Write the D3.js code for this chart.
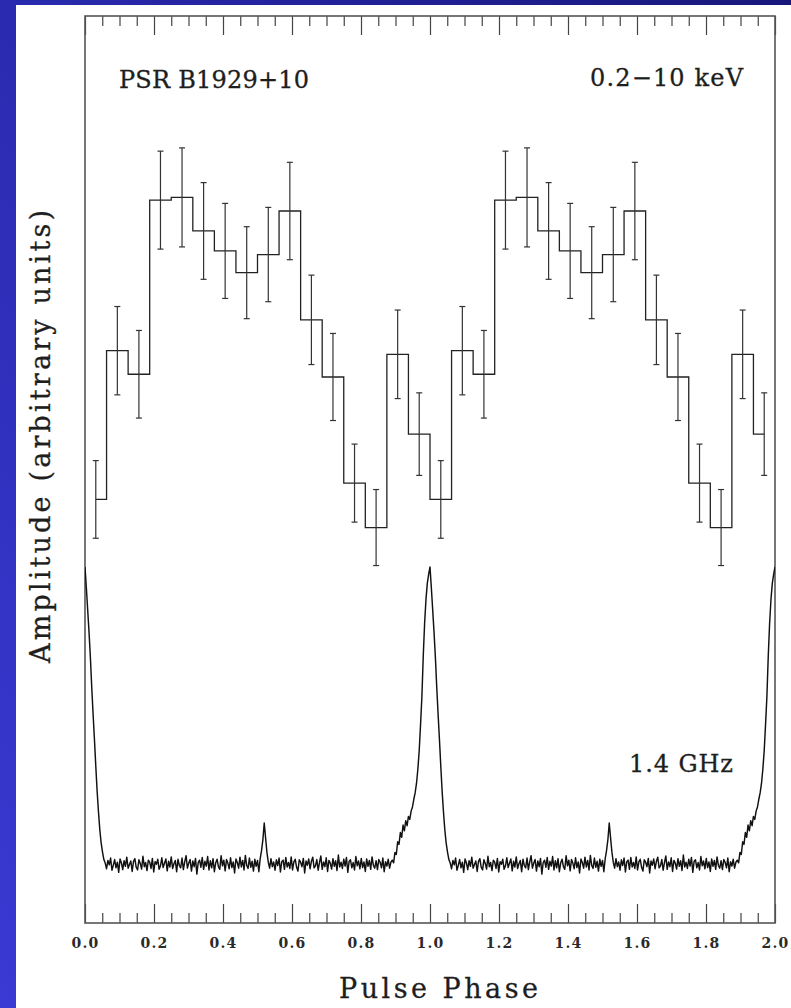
<!DOCTYPE html>
<html>
<head>
<meta charset="utf-8">
<script src="https://cdn.jsdelivr.net/npm/d3@7"></script>
<style>
  html, body { margin: 0; padding: 0; background: #2a2aa8; }
  svg { display: block; }
</style>
</head>
<body>
<svg id="chart" width="791" height="1008"></svg>
<script>
// X-ray (0.2-10 keV) folded light curve: 16 phase bins per cycle, arbitrary units
const xrayRate = [46.7, 63.1, 60.5, 79.7, 80.0, 76.3, 74.1, 71.7,
                  73.7, 78.5, 66.5, 60.2, 48.5, 43.6, 62.7, 53.9];
const xrayErr  = [4.28, 4.87, 4.83, 5.40, 5.46, 5.33, 5.24, 5.07,
                  5.20, 5.37, 4.93, 4.80, 4.30, 4.19, 4.88, 4.55];

// 1.4 GHz radio profile: 256 phase bins per cycle, baseline 0, peak 100
const radioProfile = [
  100, 93, 85.5, 78, 69.5, 59.5, 50.5, 42, 33, 24.5, 17.5, 11.5, 7, 4, 1.5, 0.3,
  -1.6, 1.2, -0.3, 2.0, -2.1, -0.4, 1.5, -1.3, 0.6, -2.8,
  1.7, 0.4, -1.9, 1.1, -0.8, 2.3, -1.4, -0.2, 1.0, -2.5,
  0.9, 1.8, -1.1, -2.0, 1.4, 0.2, -1.7, 2.6, -0.9, 0.5,
  -2.2, 1.3, 0.6, -1.5, 1.9, -2.7, 0.8, -0.1, 1.6, -1.8,
  -0.6, 2.1, -1.2, 0.3, 1.7, -2.3, 0.9, -1.0, 2.4, -1.5,
  0.1, 1.2, -2.6, 1.6, -0.5, -1.3, 2.0, -1.9, 0.7, 2.8,
  -1.4, 0.3, 1.5, -2.4, 1.0, -0.9, 1.9, -3.4, 0.5, 1.3,
  -1.1, 2.2, -1.8, 0.9, -0.7, 2.5, -2.0, 1.1, -1.3, 1.8,
  -2.6, 0.4, 1.6, -0.9, -1.8, 2.8, -0.6, 1.3, -2.3, 1.5,
  0.3, -1.6, 2.1, -1.2, 0.7, -3.0, 1.7, 0.5, -1.4, 2.3,
  -1.0, 1.2, -2.0, 2.9, -0.5, -1.5, 2.0, -1.1, 0.9, -2.4,
  1.6, -0.8, 1.2, -2.6,
  1.8, 4.5, 8.2, 13.8, 8.8, 3.9, 0.6,
  -1.4, 1.8, -0.9, 0.7, -2.1, 1.4, -0.5, 2.0, -2.7, 0.8,
  1.3, -1.8, 2.2, -1.0, 0.5, -1.5, 2.4, -2.0, 0.7, 1.6,
  -1.1, -2.4, 1.4, 0.6, -0.9, 1.9, -3.0, 1.0, -0.4, 1.7,
  -1.6, 0.9, 2.3, -1.3, -0.6, 1.5, -2.1, 0.5, 2.7, -1.8,
  0.7, -0.9, 2.1, -2.5, 1.2, 0.3, -1.7, 1.8, -0.8, 1.1,
  -2.2, 3.0, -1.0, 0.6, -1.5, 1.6, -0.7, 2.2, -2.8, 0.9,
  1.4, -1.3, 0.5, -2.0, 2.5, -0.6, 1.0, -1.6, 1.9, -1.2,
  0.7, -2.5, 1.7, -0.8, 1.2, -1.8, 2.4, -0.5, -1.4, 1.1,
  -1.9, 1.5, 0.6, -1.3, 2.0, -2.6, 0.8, -0.7, 1.6, -1.4,
  0.6,
  1.3, 0.4, 3.9, 3.2, 7.5, 6.6, 10.6, 9.0, 13.1, 11.2, 14.6, 12.9, 16.0, 15.0,
  17.8, 19.2, 21.8, 24.0, 27.2, 32.0, 38.2, 47.0, 56.5, 70.0, 81.0, 89.0, 94.5, 97.5
];

const cycles = [0, 1];
const majorTicks = [0, 0.2, 0.4, 0.6, 0.8, 1.0, 1.2, 1.4, 1.6, 1.8, 2.0];
const tickLabels = ["0.0", "0.2", "0.4", "0.6", "0.8", "1.0", "1.2", "1.4", "1.6", "1.8", "2.0"];
const minorTicks = [0.05, 0.1, 0.15, 0.25, 0.3, 0.35, 0.45, 0.5, 0.55, 0.65, 0.7, 0.75,
                    0.85, 0.9, 0.95, 1.05, 1.1, 1.15, 1.25, 1.3, 1.35, 1.45, 1.5, 1.55,
                    1.65, 1.7, 1.75, 1.85, 1.9, 1.95];

const svg = d3.select("#chart");
const W = 791, H = 1008;
const plot = { left: 85, right: 775, top: 16, bottom: 923 };
const serif = "'DejaVu Serif', 'Liberation Serif', serif";
const ink = "#1e1e1e";

// backdrop: blue slide gradient with a white card
const defs = svg.append("defs");
const grad = defs.append("linearGradient").attr("id", "slide")
  .attr("x1", "1").attr("y1", "0").attr("x2", "0").attr("y2", "1");
grad.append("stop").attr("offset", "0").attr("stop-color", "#17177a");
grad.append("stop").attr("offset", "0.5").attr("stop-color", "#2a2ab0");
grad.append("stop").attr("offset", "1").attr("stop-color", "#3a3ad4");
svg.append("rect").attr("width", W).attr("height", H).attr("fill", "url(#slide)");
svg.append("rect").attr("x", 16).attr("y", 5).attr("width", W - 16).attr("height", H - 5)
  .attr("fill", "#ffffff");

defs.append("clipPath").attr("id", "plotClip").append("rect")
  .attr("x", plot.left).attr("y", plot.top)
  .attr("width", plot.right - plot.left).attr("height", plot.bottom - plot.top);

const x = d3.scaleLinear().domain([0, 2]).range([plot.left, plot.right]);
const yX = d3.scaleLinear().domain([0, 100]).range([plot.bottom, plot.top]);
const yR = d3.scaleLinear().domain([0, 100]).range([864, 567]);

// ticks on top and bottom edges, pointing inward
function styleTicks(g) {
  g.select(".domain").remove();
  g.selectAll(".tick line").attr("stroke", "#444").attr("stroke-width", 1.2);
}
svg.append("g").attr("transform", `translate(0,${plot.bottom})`)
  .call(d3.axisBottom(x).tickValues(majorTicks).tickSize(-19).tickPadding(15)
    .tickFormat(d => tickLabels[majorTicks.indexOf(d)]))
  .call(styleTicks)
  .call(g => g.selectAll("text")
    .attr("font-family", serif).attr("font-size", 14).attr("font-weight", "bold")
    .attr("letter-spacing", "1.2px").attr("fill", "#2a2a2a"));
svg.append("g").attr("transform", `translate(0,${plot.bottom})`)
  .call(d3.axisBottom(x).tickValues(minorTicks).tickSize(-10).tickFormat(""))
  .call(styleTicks);
svg.append("g").attr("transform", `translate(0,${plot.top})`)
  .call(d3.axisTop(x).tickValues(majorTicks).tickSize(-19).tickFormat(""))
  .call(styleTicks);
svg.append("g").attr("transform", `translate(0,${plot.top})`)
  .call(d3.axisTop(x).tickValues(minorTicks).tickSize(-10).tickFormat(""))
  .call(styleTicks);

// frame
svg.append("rect").attr("x", plot.left).attr("y", plot.top)
  .attr("width", plot.right - plot.left).attr("height", plot.bottom - plot.top)
  .attr("fill", "none").attr("stroke", "#555").attr("stroke-width", 1.6);

// X-ray histogram, two cycles, stepped between bin centres
const nb = xrayRate.length;
const xrayBins = [];
cycles.forEach(c => xrayRate.forEach((v, i) => {
  xrayBins.push({ p: c + (i + 0.5) / nb, v: v, e: xrayErr[i] });
}));
const dataLayer = svg.append("g").attr("clip-path", "url(#plotClip)");
dataLayer.append("path").datum(xrayBins)
  .attr("fill", "none").attr("stroke", "#222").attr("stroke-width", 1.3)
  .attr("d", d3.line().x(d => x(d.p)).y(d => yX(d.v)).curve(d3.curveStep));

const eb = dataLayer.append("g").attr("stroke", "#333").attr("stroke-width", 1.2);
eb.selectAll("line.bar").data(xrayBins).join("line").attr("class", "bar")
  .attr("x1", d => x(d.p)).attr("x2", d => x(d.p))
  .attr("y1", d => yX(d.v - d.e)).attr("y2", d => yX(d.v + d.e));
eb.selectAll("line.capHi").data(xrayBins).join("line").attr("class", "capHi")
  .attr("x1", d => x(d.p) - 3).attr("x2", d => x(d.p) + 3)
  .attr("y1", d => yX(d.v + d.e)).attr("y2", d => yX(d.v + d.e));
eb.selectAll("line.capLo").data(xrayBins).join("line").attr("class", "capLo")
  .attr("x1", d => x(d.p) - 3).attr("x2", d => x(d.p) + 3)
  .attr("y1", d => yX(d.v - d.e)).attr("y2", d => yX(d.v - d.e));

// radio profile, two cycles
const nr = radioProfile.length;
const radioPts = [];
cycles.forEach(c => radioProfile.forEach((v, i) => radioPts.push({ p: c + i / nr, v: v })));
radioPts.push({ p: 2, v: radioProfile[0] });
dataLayer.append("path").datum(radioPts)
  .attr("fill", "none").attr("stroke", "#111").attr("stroke-width", 1.45)
  .attr("stroke-linejoin", "round")
  .attr("d", d3.line().x(d => x(d.p)).y(d => yR(d.v)));

// labels
const label = (t, xx, yy, size, len, anchor) => svg.append("text")
  .attr("x", xx).attr("y", yy).attr("font-family", serif).attr("font-size", size)
  .attr("fill", ink).attr("stroke", ink).attr("stroke-width", 0.3)
  .attr("text-anchor", anchor || "start")
  .attr("textLength", len).attr("lengthAdjust", "spacing").text(t);

label("PSR B1929+10", 119, 88, 24, 190);
label("0.2\u221210 keV", 743, 86, 24, 153, "end");
label("1.4 GHz", 733, 772, 24, 104, "end");
label("Pulse Phase", 438.5, 998, 27, 199, "middle");

svg.append("text")
  .attr("transform", "translate(50,436.5) rotate(-90)")
  .attr("font-family", serif).attr("font-size", 27)
  .attr("fill", ink).attr("stroke", ink).attr("stroke-width", 0.3)
  .attr("text-anchor", "middle").attr("textLength", 453).attr("lengthAdjust", "spacing")
  .text("Amplitude (arbitrary units)");
</script>
</body>
</html>
